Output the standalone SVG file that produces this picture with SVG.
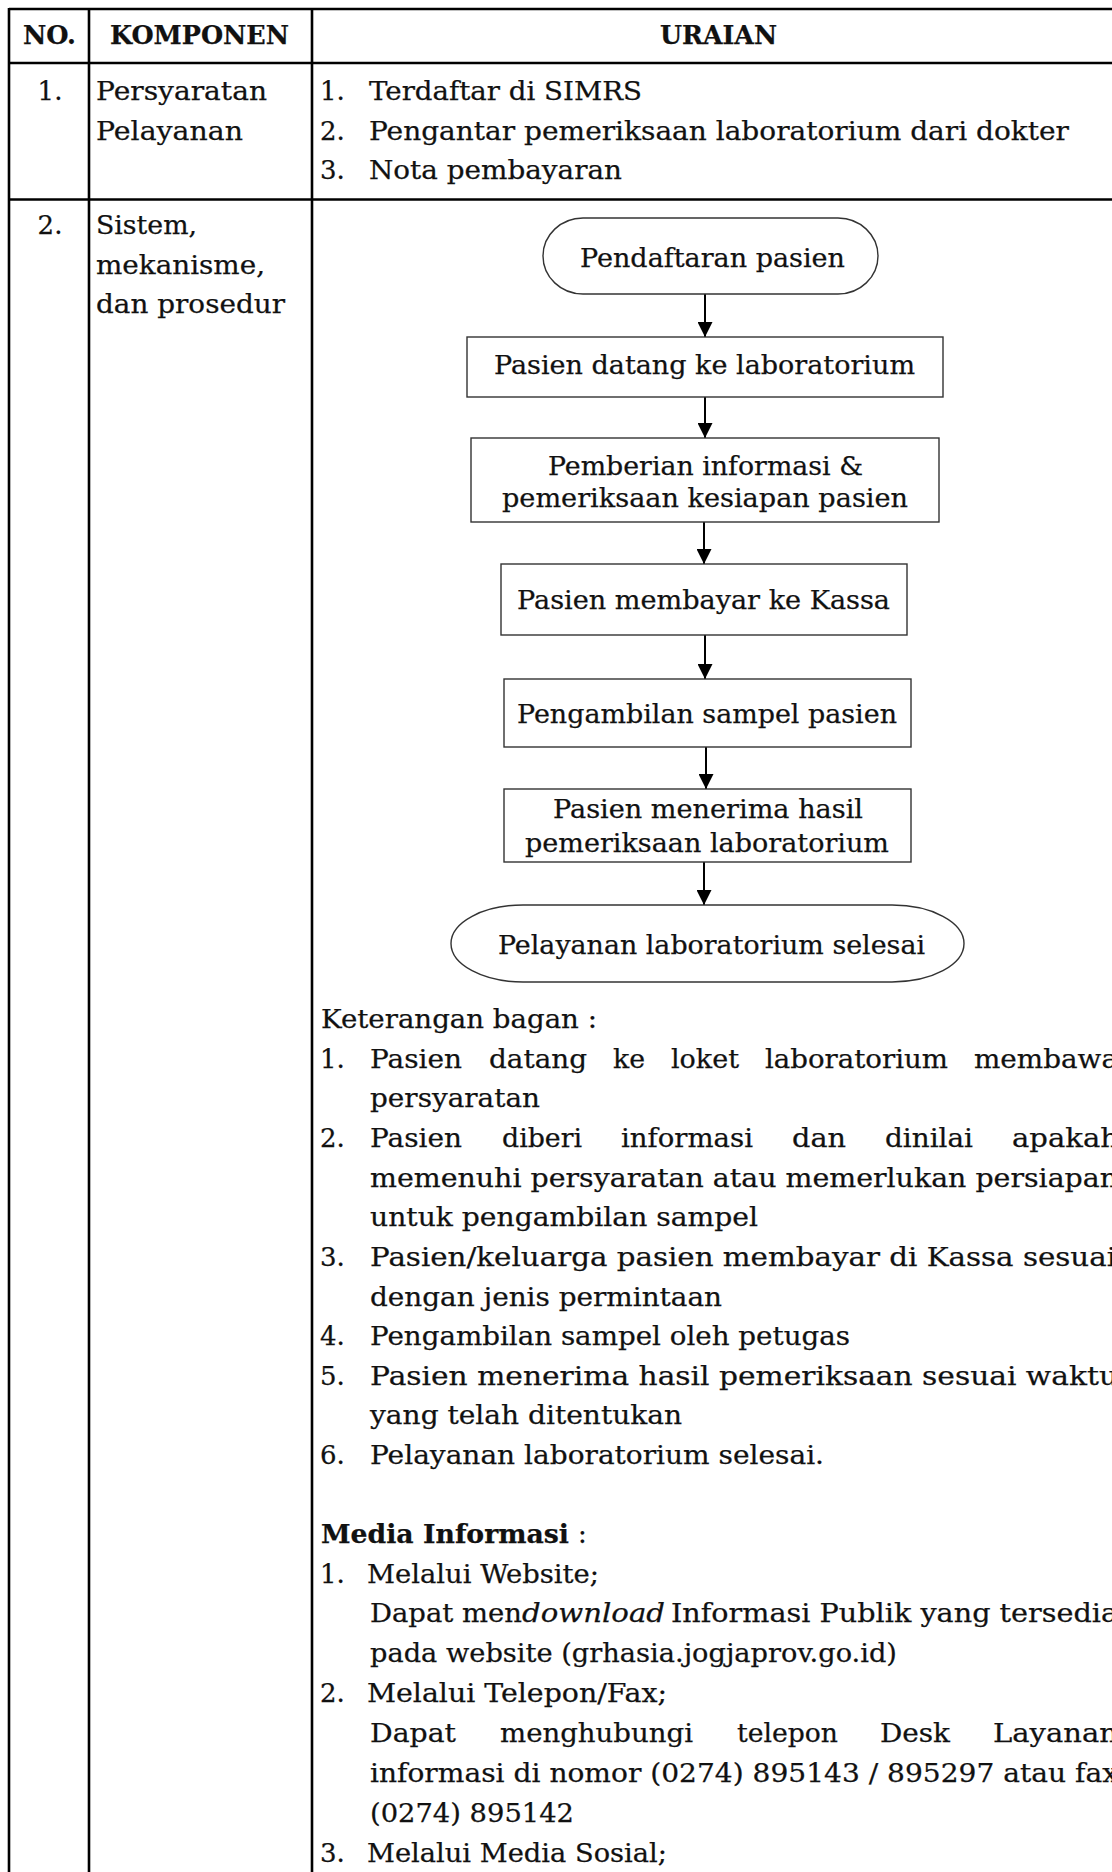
<svg xmlns="http://www.w3.org/2000/svg" width="1112" height="1872" viewBox="0 0 1112 1872">
  <style>
    .t { font-family: "DejaVu Serif", "Liberation Serif", serif; font-size: 26px; fill: #111; stroke: #111; stroke-width: 0.25; }
    .b { font-weight: bold; }
    .i { font-style: italic; }
    .c { text-anchor: middle; }
    .grid { stroke: #000; stroke-width: 2.6; fill: none; }
    .box { fill: #fff; stroke: #333; stroke-width: 1.4; }
    .conn { stroke: #000; stroke-width: 2; fill: none; marker-end: url(#arr); }
  </style>
  <defs>
    <marker id="arr" markerUnits="userSpaceOnUse" markerWidth="15" markerHeight="15" refX="15" refY="7.5" orient="auto">
      <path d="M0,0 L15,7.5 L0,15 z" fill="#000"/>
    </marker>
  </defs>

  <rect width="1112" height="1872" fill="#fff"/>

  <!-- table grid -->
  <g id="table-grid" class="grid">
    <line x1="9" y1="9" x2="1130" y2="9"/>
    <line x1="9" y1="63" x2="1130" y2="63"/>
    <line x1="9" y1="199.5" x2="1130" y2="199.5"/>
    <line x1="9" y1="8" x2="9" y2="1872"/>
    <line x1="89" y1="8" x2="89" y2="1872"/>
    <line x1="312" y1="8" x2="312" y2="1872"/>
  </g>

  <!-- header row -->
  <g id="header">
    <text class="t b" x="23" y="44" textLength="53" lengthAdjust="spacingAndGlyphs">NO.</text>
    <text class="t b" x="110" y="44" textLength="179" lengthAdjust="spacingAndGlyphs">KOMPONEN</text>
    <text class="t b" x="660" y="44" textLength="117" lengthAdjust="spacingAndGlyphs">URAIAN</text>
  </g>

  <!-- row 1 -->
  <g id="row-persyaratan">
    <text class="t c" x="50" y="100">1.</text>
    <text class="t" x="96" y="100" textLength="171" lengthAdjust="spacingAndGlyphs">Persyaratan</text>
    <text class="t" x="96" y="140" textLength="147" lengthAdjust="spacingAndGlyphs">Pelayanan</text>
    <text class="t" x="320" y="100">1.</text>
    <text class="t" x="369" y="100" textLength="273" lengthAdjust="spacingAndGlyphs">Terdaftar di SIMRS</text>
    <text class="t" x="320" y="140">2.</text>
    <text class="t" x="369" y="140" textLength="700" lengthAdjust="spacingAndGlyphs">Pengantar pemeriksaan laboratorium dari dokter</text>
    <text class="t" x="320" y="179">3.</text>
    <text class="t" x="369" y="179" textLength="253" lengthAdjust="spacingAndGlyphs">Nota pembayaran</text>
  </g>

  <!-- row 2 -->
  <g id="row-prosedur">
    <text class="t c" x="50" y="234">2.</text>
    <text class="t" x="96" y="234" textLength="101" lengthAdjust="spacingAndGlyphs">Sistem,</text>
    <text class="t" x="96" y="274" textLength="169" lengthAdjust="spacingAndGlyphs">mekanisme,</text>
    <text class="t" x="96" y="313" textLength="189" lengthAdjust="spacingAndGlyphs">dan prosedur</text>
  </g>

  <!-- flowchart connectors -->
  <g id="connectors">
    <line class="conn" x1="705" y1="294" x2="705" y2="337"/>
    <line class="conn" x1="705" y1="397" x2="705" y2="438"/>
    <line class="conn" x1="704" y1="522" x2="704" y2="564"/>
    <line class="conn" x1="705" y1="635" x2="705" y2="679"/>
    <line class="conn" x1="706" y1="747" x2="706" y2="789"/>
    <line class="conn" x1="704" y1="862" x2="704" y2="905"/>
  </g>

  <!-- flowchart nodes -->
  <g id="n-pendaftaran">
    <rect class="box" x="543" y="218" width="335" height="76" rx="40" ry="38"/>
    <text class="t" x="580" y="267" textLength="265" lengthAdjust="spacingAndGlyphs">Pendaftaran pasien</text>
  </g>
  <g id="n-datang">
    <rect class="box" x="467" y="337" width="476" height="60"/>
    <text class="t" x="494" y="374" textLength="421" lengthAdjust="spacingAndGlyphs">Pasien datang ke laboratorium</text>
  </g>
  <g id="n-informasi">
    <rect class="box" x="471" y="438" width="468" height="84"/>
    <text class="t" x="548" y="475" textLength="315" lengthAdjust="spacingAndGlyphs">Pemberian informasi &amp;</text>
    <text class="t" x="502" y="507" textLength="406" lengthAdjust="spacingAndGlyphs">pemeriksaan kesiapan pasien</text>
  </g>
  <g id="n-kassa">
    <rect class="box" x="501" y="564" width="406" height="71"/>
    <text class="t" x="517" y="609" textLength="373" lengthAdjust="spacingAndGlyphs">Pasien membayar ke Kassa</text>
  </g>
  <g id="n-sampel">
    <rect class="box" x="504" y="679" width="407" height="68"/>
    <text class="t" x="517" y="723" textLength="380" lengthAdjust="spacingAndGlyphs">Pengambilan sampel pasien</text>
  </g>
  <g id="n-hasil">
    <rect class="box" x="504" y="789" width="407" height="73"/>
    <text class="t" x="553" y="818" textLength="310" lengthAdjust="spacingAndGlyphs">Pasien menerima hasil</text>
    <text class="t" x="525" y="852" textLength="364" lengthAdjust="spacingAndGlyphs">pemeriksaan laboratorium</text>
  </g>
  <g id="n-selesai">
    <rect class="box" x="451" y="905" width="513" height="77" rx="72" ry="38.5"/>
    <text class="t" x="498" y="954" textLength="427" lengthAdjust="spacingAndGlyphs">Pelayanan laboratorium selesai</text>
  </g>

  <!-- flow description -->
  <g id="keterangan">
    <text class="t" x="321" y="1028" textLength="276" lengthAdjust="spacingAndGlyphs">Keterangan bagan :</text>

    <text class="t" x="320" y="1068">1.</text>
    <text class="t" x="370" y="1068" textLength="92" lengthAdjust="spacingAndGlyphs">Pasien</text>
    <text class="t" x="489" y="1068" textLength="98" lengthAdjust="spacingAndGlyphs">datang</text>
    <text class="t" x="613" y="1068" textLength="32" lengthAdjust="spacingAndGlyphs">ke</text>
    <text class="t" x="671" y="1068" textLength="68" lengthAdjust="spacingAndGlyphs">loket</text>
    <text class="t" x="765" y="1068" textLength="183" lengthAdjust="spacingAndGlyphs">laboratorium</text>
    <text class="t" x="974" y="1068" textLength="144" lengthAdjust="spacingAndGlyphs">membawa</text>
    <text class="t" x="370" y="1107" textLength="170" lengthAdjust="spacingAndGlyphs">persyaratan</text>

    <text class="t" x="320" y="1147">2.</text>
    <text class="t" x="370" y="1147" textLength="92" lengthAdjust="spacingAndGlyphs">Pasien</text>
    <text class="t" x="502" y="1147" textLength="80" lengthAdjust="spacingAndGlyphs">diberi</text>
    <text class="t" x="621" y="1147" textLength="132" lengthAdjust="spacingAndGlyphs">informasi</text>
    <text class="t" x="792" y="1147" textLength="54" lengthAdjust="spacingAndGlyphs">dan</text>
    <text class="t" x="885" y="1147" textLength="88" lengthAdjust="spacingAndGlyphs">dinilai</text>
    <text class="t" x="1012" y="1147" textLength="107" lengthAdjust="spacingAndGlyphs">apakah</text>
    <text class="t" x="370" y="1187" textLength="748" lengthAdjust="spacingAndGlyphs">memenuhi persyaratan atau memerlukan persiapan</text>
    <text class="t" x="370" y="1226" textLength="388" lengthAdjust="spacingAndGlyphs">untuk pengambilan sampel</text>

    <text class="t" x="320" y="1266">3.</text>
    <text class="t" x="370" y="1266" textLength="746" lengthAdjust="spacingAndGlyphs">Pasien/keluarga pasien membayar di Kassa sesuai</text>
    <text class="t" x="370" y="1306" textLength="352" lengthAdjust="spacingAndGlyphs">dengan jenis permintaan</text>

    <text class="t" x="320" y="1345">4.</text>
    <text class="t" x="370" y="1345" textLength="480" lengthAdjust="spacingAndGlyphs">Pengambilan sampel oleh petugas</text>

    <text class="t" x="320" y="1385">5.</text>
    <text class="t" x="370" y="1385" textLength="748" lengthAdjust="spacingAndGlyphs">Pasien menerima hasil pemeriksaan sesuai waktu</text>
    <text class="t" x="370" y="1424" textLength="312" lengthAdjust="spacingAndGlyphs">yang telah ditentukan</text>

    <text class="t" x="320" y="1464">6.</text>
    <text class="t" x="370" y="1464" textLength="454" lengthAdjust="spacingAndGlyphs">Pelayanan laboratorium selesai.</text>
  </g>

  <!-- information channels -->
  <g id="media-informasi">
    <text class="t b" x="321" y="1543" textLength="248" lengthAdjust="spacingAndGlyphs">Media Informasi</text>
    <text class="t" x="578" y="1543">:</text>

    <text class="t" x="320" y="1583">1.</text>
    <text class="t" x="367" y="1583" textLength="232" lengthAdjust="spacingAndGlyphs">Melalui Website;</text>
    <text class="t" x="370" y="1622" textLength="152" lengthAdjust="spacingAndGlyphs">Dapat men</text>
    <text class="t i" x="522" y="1622" textLength="143" lengthAdjust="spacingAndGlyphs">download</text>
    <text class="t" x="671" y="1622" textLength="447" lengthAdjust="spacingAndGlyphs">Informasi Publik yang tersedia</text>
    <text class="t" x="370" y="1662" textLength="527" lengthAdjust="spacingAndGlyphs">pada website (grhasia.jogjaprov.go.id)</text>

    <text class="t" x="320" y="1702">2.</text>
    <text class="t" x="367" y="1702" textLength="300" lengthAdjust="spacingAndGlyphs">Melalui Telepon/Fax;</text>
    <text class="t" x="370" y="1742" textLength="86" lengthAdjust="spacingAndGlyphs">Dapat</text>
    <text class="t" x="500" y="1742" textLength="193" lengthAdjust="spacingAndGlyphs">menghubungi</text>
    <text class="t" x="737" y="1742" textLength="101" lengthAdjust="spacingAndGlyphs">telepon</text>
    <text class="t" x="880" y="1742" textLength="70" lengthAdjust="spacingAndGlyphs">Desk</text>
    <text class="t" x="993" y="1742" textLength="125" lengthAdjust="spacingAndGlyphs">Layanan</text>
    <text class="t" x="370" y="1782" textLength="748" lengthAdjust="spacingAndGlyphs">informasi di nomor (0274) 895143 / 895297 atau fax</text>
    <text class="t" x="370" y="1822" textLength="204" lengthAdjust="spacingAndGlyphs">(0274) 895142</text>

    <text class="t" x="320" y="1862">3.</text>
    <text class="t" x="367" y="1862" textLength="300" lengthAdjust="spacingAndGlyphs">Melalui Media Sosial;</text>
  </g>
</svg>
